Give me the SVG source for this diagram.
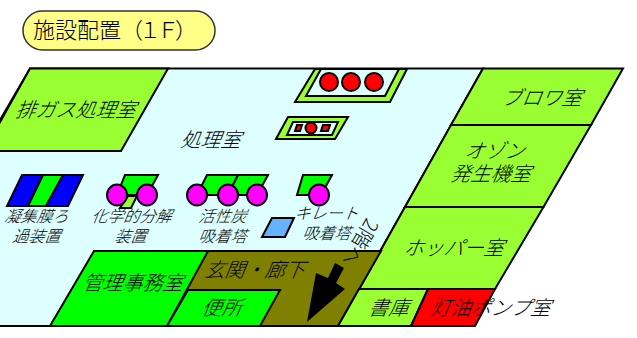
<svg xmlns="http://www.w3.org/2000/svg" width="637" height="338" viewBox="0 0 637 338">
<style>
.r{stroke:#000;stroke-width:2;stroke-linejoin:miter}
.t{font-family:"Noto Sans CJK JP","Noto Sans",sans-serif;font-weight:300;fill:#000;text-anchor:middle}
.lg{fill:#99ff33}.g{fill:#00ff00}.m{fill:#ff00ff}.rd{fill:#ff0000}.b{fill:#0000ff}.ol{fill:#808000}.c{fill:#ddffff}
.s20{font-size:20px}.s16{font-size:16px}
</style>
<g id="floor"><polygon class="r c" points="30,68.500 483,68.500 338,326 -120,326"/></g>
<g id="title"><rect x="23" y="11" width="192" height="39" rx="19.500" fill="#ffff88" stroke="#333" stroke-width="1.500"/><text class="t" style="text-anchor:start" x="33" y="38" font-size="22">施設配置<tspan letter-spacing="-4">（１Ｆ）</tspan></text></g>
<g id="exhaust"><polygon class="r lg" points="30,68.500 168,68.500 121,151 -16,151"/><text class="t s20" transform="translate(75,117) skewX(-22)">排ガス処理室</text></g>
<g id="proc-label"><text class="t s20" transform="translate(210,147) skewX(-22)">処理室</text></g>
<g id="blower"><polygon class="r lg" points="483,68.500 623,68.500 591,125 451,125"/><text class="t s20" transform="translate(541,105) skewX(-22)">ブロワ室</text></g>
<g id="ozone"><polygon class="r lg" points="451,125 591,125 543.500,207 405,207"/><text class="t s20" transform="translate(494,158) skewX(-22)">オゾン</text><text class="t s20" transform="translate(490,181) skewX(-22)">発生機室</text></g>
<g id="hopper"><polygon class="r lg" points="405,207 543.500,207 495,289 359,289"/><text class="t s20" transform="translate(453,255) skewX(-22)">ホッパー室</text></g>
<g id="hall"><polygon class="r ol" points="208,251 381,251 338,326 160,326"/></g>
<g id="office"><polygon class="r g" points="94,251 208,251 167,326 50,326"/><text class="t s20" transform="translate(132,290) skewX(-22)">管理事務室</text></g>
<g id="hall-label"><text class="t s20" transform="translate(254,277) skewX(-22)">玄関・廊下</text></g>
<g id="toilet"><polygon class="r g" points="188,290 280,290 260,326 167,326"/><text class="t s20" transform="translate(221,315) skewX(-22)">便所</text></g>
<g id="stock"><polygon class="r lg" points="359,289 428,289 411,326 338,326"/><text class="t s20" transform="translate(388,315) skewX(-22)">書庫</text></g>
<g id="pump"><polygon class="r rd" points="428,289 495,289 475,326 411,326"/><text class="t s20" transform="translate(490,315) skewX(-22)">灯油ポンプ室</text></g>
<g id="stairs-arrow"><polygon fill="#000" points="307,322 316,273 328,278 335,263 344,268 336,283 345,289"/></g>
<g id="stairs-label"><text class="t s20" transform="translate(354,239) rotate(120)">2階へ</text></g>
<g id="tank3"><polygon class="r lg" points="315,69 407,69 390,102 295,102"/><polygon class="r c" points="321,69 399,69 385,96 306,96"/><circle class="r rd" cx="329" cy="82" r="9"/><circle class="r rd" cx="351" cy="82" r="9"/><circle class="r rd" cx="374" cy="82" r="9"/></g>
<g id="tank2"><polygon class="r lg" points="288,117 348,117 335,139 276,139"/><polygon class="r c" points="293,122 338,122 332,135 287,135"/><polygon class="r rd" points="297,125 302,125 300,131 295,131"/><circle class="r rd" cx="311" cy="128" r="5.500"/><polygon class="r rd" points="323,125 330,125 328,131 321,131"/></g>
<g id="coag"><polygon class="r b" points="22,175 43,175 28,206 7,206"/><polygon class="r g" points="43,175 63,175 46,206 28,206"/><polygon class="r b" points="63,175 83,175 68,206 46,206"/><text class="t s16" transform="translate(36,222) skewX(-22)">凝集膜ろ</text><text class="t s16" transform="translate(36,242) skewX(-22)">過装置</text></g>
<g id="chem"><polygon class="r g" points="125,175 158,175 147,195 117,195"/><polygon class="r lg" points="128,196 137,196 131,208 120,208"/><ellipse class="r m" cx="117" cy="195" rx="10" ry="10.500"/><ellipse class="r m" cx="147" cy="195" rx="10" ry="10.500"/><text class="t s16" transform="translate(131,222) skewX(-22)">化学的分解</text><text class="t s16" transform="translate(130,242) skewX(-22)">装置</text></g>
<g id="carbon"><polygon class="r g" points="207,175 238,175 228,195 197,195"/><polygon class="r g" points="238,175 268,175 257,195 228,195"/><ellipse class="r m" cx="197" cy="195" rx="10" ry="10.500"/><ellipse class="r m" cx="228" cy="195" rx="10" ry="10.500"/><ellipse class="r m" cx="257" cy="195" rx="10" ry="10.500"/><text class="t s16" transform="translate(222,222) skewX(-22)">活性炭</text><text class="t s16" transform="translate(222,242) skewX(-22)">吸着塔</text></g>
<g id="chelate"><polygon class="r g" points="303,175 332,175 321,195 297,195"/><ellipse class="r m" cx="319" cy="195" rx="10" ry="10.500"/><polygon class="r" fill="#66b2ff" points="272,218 294,218 285,237 262,237"/><text class="t s16" transform="translate(326,219) skewX(-22)">キレート</text><text class="t s16" transform="translate(326,239) skewX(-22)">吸着塔</text></g>
</svg>
